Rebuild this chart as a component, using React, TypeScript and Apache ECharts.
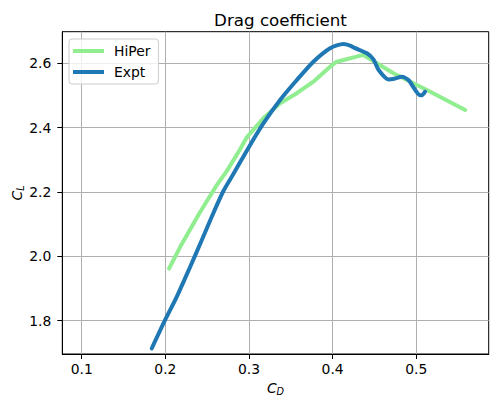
import React, { useEffect, useRef } from "react";
import * as echarts from "echarts";

const hiperCD = [0.2044, 0.2178, 0.2416, 0.2615, 0.2734, 0.2894, 0.2974, 0.3172, 0.3372, 0.3572, 0.377, 0.397, 0.405, 0.4368, 0.4727, 0.5127, 0.5585];
const hiperCL = [1.962, 2.0295, 2.138, 2.2215, 2.265, 2.333, 2.37, 2.429, 2.476, 2.507, 2.543, 2.5895, 2.605, 2.626, 2.569, 2.517, 2.455];

const exptCD = [0.1837, 0.1996, 0.2136, 0.2296, 0.2435, 0.2555, 0.2694, 0.2834, 0.2993, 0.3172, 0.3372, 0.3572, 0.377, 0.397, 0.413, 0.4209, 0.427, 0.441, 0.4488, 0.455, 0.4667, 0.4738, 0.4828, 0.4907, 0.5047, 0.5067, 0.5106];
const exptCL = [1.7135, 1.8015, 1.874, 1.967, 2.05, 2.123, 2.203, 2.265, 2.337, 2.413, 2.486, 2.548, 2.605, 2.647, 2.66, 2.655, 2.647, 2.631, 2.612, 2.579, 2.55, 2.552, 2.558, 2.548, 2.501, 2.501, 2.512];

const xTicks = [0.1, 0.2, 0.3, 0.4, 0.5];
const yTicks = [1.8, 2.0, 2.2, 2.4, 2.6];

const FONT = "DejaVu Sans";

export default function App() {
  const ref = useRef<HTMLDivElement>(null);
  useEffect(() => {
    const chart = echarts.init(ref.current!, null, { renderer: "svg" });
    const toPairs = (xs: number[], ys: number[]) => xs.map((x, i) => [x, ys[i]]);
    const rich = {
      i: { fontFamily: FONT, fontStyle: "italic", fontSize: 13.9, color: "#000" },
      s: { fontFamily: FONT, fontStyle: "italic", fontSize: 9.7, color: "#000", verticalAlign: "bottom", padding: [7, 0, 0, 0] },
    };
    chart.setOption({
      animation: false,
      backgroundColor: "#fff",
      textStyle: { fontFamily: FONT },
      title: {
        text: "Drag coefficient",
        left: 275.5,
        textAlign: "center",
        top: 6,
        textStyle: { fontFamily: FONT, fontSize: 16.7, fontWeight: "normal", color: "#000" },
      },
      legend: {
        left: 69,
        top: 39,
        orient: "vertical",
        padding: [4, 8, 4, 4],
        itemGap: 5,
        itemWidth: 31,
        itemHeight: 4,
        icon: "rect",
        backgroundColor: "rgba(255,255,255,0.8)",
        borderColor: "#cccccc",
        borderWidth: 1,
        borderRadius: 3,
        textStyle: { fontFamily: FONT, fontSize: 13.9, color: "#000", lineHeight: 16, padding: [0, 0, 0, 5] },
        data: ["HiPer", "Expt"],
      },
      graphic: [
        {
          type: "text",
          x: 17,
          y: 193,
          rotation: Math.PI / 2,
          style: {
            text: "{i|C}{s|L}",
            rich,
            align: "center",
            verticalAlign: "middle",
          },
        },
      ],
      grid: {
        left: 62.3,
        right: 8.3,
        top: 31.7,
        bottom: 54,
        outerBoundsMode: "none",
        containLabel: false,
        show: true,
        borderColor: "#000",
        borderWidth: 1,
        backgroundColor: "transparent",
      },
      xAxis: {
        type: "value",
        min: 0.0768,
        max: 0.5866,
        name: "{i|C}{s|D}",
        nameLocation: "middle",
        nameGap: 25,
        nameTextStyle: { rich },
        axisLine: { show: true, onZero: false, lineStyle: { color: "#000", width: 1 } },
        axisTick: { show: true, length: 5, customValues: xTicks, lineStyle: { color: "#000" } },
        axisLabel: {
          customValues: xTicks,
          fontFamily: FONT,
          fontSize: 13.9,
          color: "#000",
          margin: 8,
          formatter: (v: number) => v.toFixed(1),
        },
        splitLine: { show: true, lineStyle: { color: "#b0b0b0", width: 1 } },
      },
      yAxis: {
        type: "value",
        min: 1.6965,
        max: 2.6982,
        axisLine: { show: true, onZero: false, lineStyle: { color: "#000", width: 1 } },
        axisTick: { show: true, length: 5, customValues: yTicks, lineStyle: { color: "#000" } },
        axisLabel: {
          customValues: yTicks,
          fontFamily: FONT,
          fontSize: 13.9,
          color: "#000",
          margin: 11,
          formatter: (v: number) => v.toFixed(1),
        },
        splitLine: { show: true, lineStyle: { color: "#b0b0b0", width: 1 } },
      },
      series: [
        {
          name: "HiPer",
          type: "line",
          data: toPairs(hiperCD, hiperCL),
          showSymbol: false,
          smooth: false,
          color: "#90ee90",
          lineStyle: { width: 4, color: "#90ee90", cap: "round", join: "round" },
        },
        {
          name: "Expt",
          type: "line",
          data: toPairs(exptCD, exptCL),
          showSymbol: false,
          smooth: 0.25,
          color: "#1f77b4",
          lineStyle: { width: 4, color: "#1f77b4", cap: "round", join: "round" },
        },
      ],
    });
    return () => chart.dispose();
  }, []);
  return <div ref={ref} style={{ width: 497, height: 408, position: "fixed", left: 0, top: 0 }} />;
}
